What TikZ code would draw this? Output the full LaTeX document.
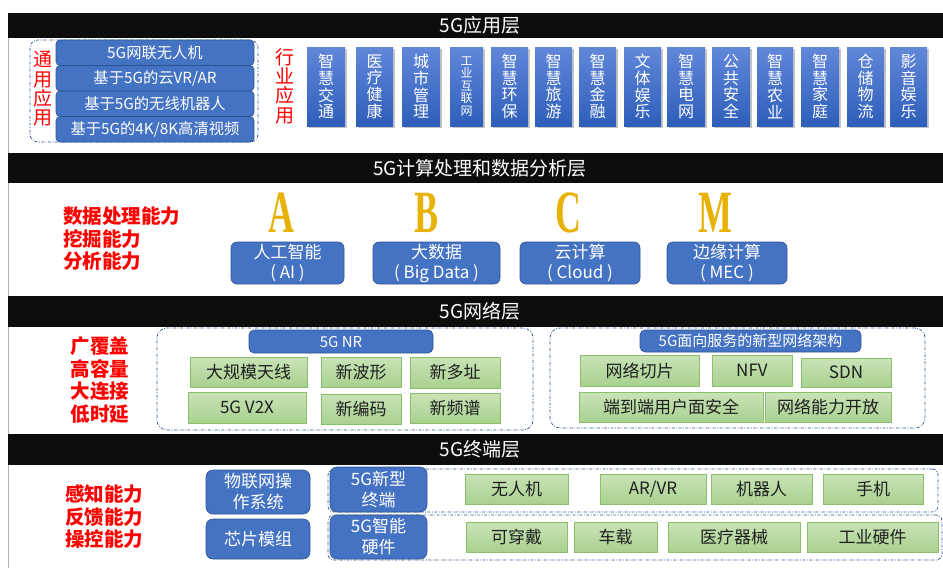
\documentclass[tikz,border=0pt]{standalone}
\usepackage{fontspec}
\setmainfont{Noto Sans CJK SC}
\newfontfamily\letterfont{Liberation Serif}
\usetikzlibrary{shadows}
\definecolor{mblue}{rgb}{0.27, 0.45, 0.77}
\definecolor{mbluedark}{rgb}{0.18, 0.32, 0.56}
\definecolor{mbluetop}{rgb}{0.38, 0.53, 0.85}
\definecolor{mbluebot}{rgb}{0.18, 0.37, 0.73}
\definecolor{mgreentop}{rgb}{0.79, 0.89, 0.72}
\definecolor{mgreenbot}{rgb}{0.66, 0.82, 0.56}
\definecolor{mgreenline}{rgb}{0.55, 0.75, 0.42}
\definecolor{mred}{rgb}{1, 0, 0}
\definecolor{mgold}{rgb}{0.91, 0.70, 0.02}
\definecolor{mbar}{rgb}{0.05, 0.05, 0.05}
\definecolor{mtext}{rgb}{0.12, 0.12, 0.12}
\tikzset{title/.style = {text=white, inner sep=0, font=\fontsize{19}{19}\selectfont}}
\tikzset{vtext/.style = {text=mred, align=center, inner sep=0, font=\fontsize{19}{19.3}\selectfont}}
\tikzset{redtext/.style = {text=mred, inner sep=0, font=\fontsize{19.5}{22.5}\selectfont\bfseries}}
\tikzset{dashbox/.style = {draw=mbluedark, line width=0.7,
                           dash pattern=on 3pt off 1.5pt on 0.8pt off 1.5pt}}
\tikzset{bluebox/.style = {fill=mblue, draw=mbluedark, line width=0.6, text=white, inner sep=0}}
\tikzset{indbox/.style = {top color=mbluetop, bottom color=mbluebot, draw=none, text=white,
                          minimum height=79, inner sep=0, align=center,
                          drop shadow={shadow xshift=2pt, shadow yshift=-2pt, opacity=0.45}}}
\tikzset{greenbox/.style = {top color=mgreentop, bottom color=mgreenbot, draw=mgreenline,
                            line width=0.6, text=mtext, inner sep=0,
                            font=\fontsize{17}{17}\selectfont}}
\tikzset{bigletter/.style = {text=mgold, inner sep=0, font=\fontsize{60}{60}\selectfont\letterfont\bfseries}}

\begin{document}
\begin{tikzpicture}[x=1pt, y=-1pt]
      \useasboundingbox (0,0) rectangle (943,568);
      \draw [gray!60] (8,13) -- (8,568);
      \foreach \ya/\yb/\nm/\lab in {13/38/app/5G应用层, 153/183/calc/5G计算处理和数据分析层,
                                    296/327/net/5G网络层, 434/465/term/5G终端层} {
        \fill [mbar] (8,\ya) rectangle (943,\yb);
        \node [title] (\nm) at (480, {(\ya+\yb)/2}) {\lab};
      }

      \node [dashbox, rounded corners=8, minimum width=228, minimum height=102] (genframe) at (144,91) {};
      \node [vtext] (gen) at (43,89) {通\\用\\应\\用};
      \foreach \cy/\lab [count=\i] in {52.75/{5G网联无人机}, 78.25/{基于5G的云VR/AR},
                                       103.75/{基于5G的无线机器人}, 129.25/{基于5G的4K/8K高清视频}} {
        \node [bluebox, rounded corners=4, minimum width=198, minimum height=25.5,
               font=\fontsize{15.3}{15}\selectfont] (gen\i) at (155,\cy) {\lab};
      }
      \node [vtext] (ind) at (285,86) {行\\业\\应\\用};
      \foreach \cx/\w/\fs/\ls/\lab [count=\i] in {326/38/16/16.7/{智\\慧\\交\\通}, 374.5/37/16/16.7/{医\\疗\\健\\康},
                                                  421/38/16/16.7/{城\\市\\管\\理}, 466.5/33/12/12.5/{工\\业\\互\\联\\网},
                                                  509.5/37/16/16.7/{智\\慧\\环\\保}, 553.5/37/16/16.7/{智\\慧\\旅\\游},
                                                  597.5/37/16/16.7/{智\\慧\\金\\融}, 642.5/37/16/16.7/{文\\体\\娱\\乐},
                                                  686/38/16/16.7/{智\\慧\\电\\网}, 731/38/16/16.7/{公\\共\\安\\全},
                                                  775/36/16/16.7/{智\\慧\\农\\业}, 820/38/16/16.7/{智\\慧\\家\\庭},
                                                  865.5/37/16/16.7/{仓\\储\\物\\流}, 908.5/37/16/16.7/{影\\音\\娱\\乐}} {
        \node [indbox, minimum width=\w, font=\fontsize{\fs}{\ls}\selectfont] (ind\i) at (\cx,86.5) {\lab};
      }

      \node [redtext, anchor=west, align=left] (calcabil) at (63,239) {数据处理能力\\挖掘能力\\分析能力};
      \foreach \lx/\bx/\bw/\ch/\zh/\en [count=\i] in {281/287.5/113/A/人工智能/{( AI )}, 427/436.5/127/B/大数据/{( Big Data )},
                                                      568/580/120/C/云计算/{( Cloud )}, 715/727/120/M/边缘计算/{( MEC )}} {
        \node [bigletter] (let\i) at (\lx,213) {\scalebox{0.6}[1]{\ch}};
        \node [bluebox, rounded corners=6, minimum width=\bw, minimum height=42, align=center,
               font=\fontsize{17}{20}\selectfont] (abc\i) at (\bx,263) {\zh\\\en};
      }

      \node [redtext, align=center] (netabil) at (100,380) {广覆盖\\高容量\\大连接\\低时延};
      \node [dashbox, rounded corners=10, minimum width=376, minimum height=102] (nrframe) at (345,379) {};
      \node [dashbox, rounded corners=10, minimum width=375, minimum height=100] (sbaframe) at (737.5,378) {};
      \node [bluebox, rounded corners=5, minimum width=184, minimum height=23,
             font=\fontsize{15}{15}\selectfont] (nr) at (341,341.5) {5G NR};
      \node [bluebox, rounded corners=5, minimum width=221, minimum height=22,
             font=\fontsize{15}{15}\selectfont] (sba) at (750.5,341) {5G面向服务的新型网络架构};
      \foreach \cx/\cy/\w/\h/\lab [count=\i] in {248.5/372/117/30/大规模天线, 361/372/80/30/新波形,
                                                 455/372.5/90/31/新多址, 247/407.5/118/31/{5G V2X},
                                                 361/409/80/30/新编码, 455/408/90/30/新频谱} {
        \node [greenbox, minimum width=\w, minimum height=\h] (nr\i) at (\cx,\cy) {\lab};
      }
      \foreach \cx/\cy/\w/\h/\lab [count=\i] in {639.5/370.5/119/31/网络切片, 752/370.5/80/31/NFV,
                                                 846/372.5/90/29/SDN, 671/407/184/30/端到端用户面安全,
                                                 828/407/126/30/网络能力开放} {
        \node [greenbox, minimum width=\w, minimum height=\h] (sba\i) at (\cx,\cy) {\lab};
      }

      \node [redtext, anchor=west, align=left] (termabil) at (65,517) {感知能力\\反馈能力\\操控能力};
      \node [dashbox, rounded corners=6, minimum width=610, minimum height=43] (newframe) at (633,490.5) {};
      \node [dashbox, rounded corners=6, minimum width=614, minimum height=45] (hwframe) at (635,537.5) {};
      \node [bluebox, rounded corners=7, minimum width=104, minimum height=44, align=center,
             font=\fontsize{17}{21}\selectfont] (iotos) at (258,492) {物联网操\\作系统};
      \node [bluebox, rounded corners=7, minimum width=104, minimum height=40,
             font=\fontsize{17}{21}\selectfont] (chip) at (258,539) {芯片模组};
      \node [bluebox, rounded corners=7, minimum width=97, minimum height=45, align=center,
             font=\fontsize{17}{21}\selectfont] (newterm) at (378.5,489.5) {5G新型\\终端};
      \node [bluebox, rounded corners=7, minimum width=97, minimum height=44, align=center,
             font=\fontsize{17}{21}\selectfont] (smarthw) at (378.5,537) {5G智能\\硬件};
      \foreach \cx/\w/\lab [count=\i] in {516.5/103/无人机, 653/106/{AR/VR}, 761.5/101/机器人, 873/100/手机} {
        \node [greenbox, minimum width=\w, minimum height=30] (new\i) at (\cx,489) {\lab};
      }
      \foreach \cx/\w/\lab [count=\i] in {516.5/101/可穿戴, 615.5/83/车载, 734/132/医疗器械, 872.5/131/工业硬件} {
        \node [greenbox, minimum width=\w, minimum height=30] (hw\i) at (\cx,537) {\lab};
      }
    \end{tikzpicture}
\end{document}
